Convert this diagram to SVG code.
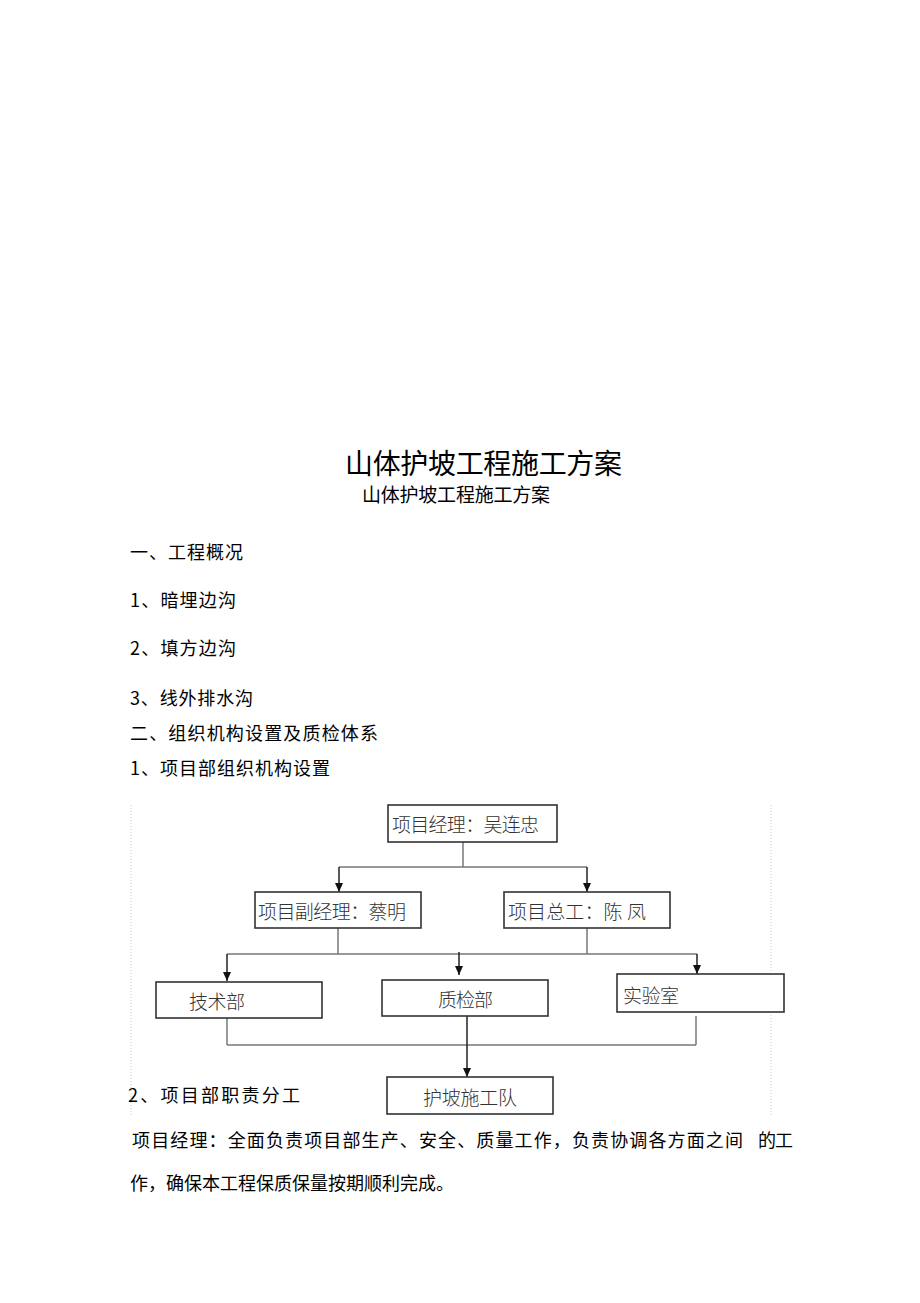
<svg xmlns="http://www.w3.org/2000/svg" width="920" height="1303" viewBox="0 0 920 1303">
<style>
.t{font-family:"Noto Sans CJK SC","Liberation Sans",sans-serif;fill:#000;font-weight:400}
.h{font-size:18px}
.b{font-family:"Noto Sans CJK SC","Liberation Serif",serif;font-size:19px;fill:#333;font-weight:300}
.box{fill:#fff;stroke:#333;stroke-width:1.6}
.ln{stroke:#777;stroke-width:1.5;fill:none}
.ar{stroke:#222;stroke-width:1.5;fill:none;marker-end:url(#ah)}
.fr{stroke:#ccc;stroke-width:1;stroke-dasharray:1 2}
</style>
<defs>
<marker id="ah" markerWidth="10" markerHeight="10" refX="9" refY="5" orient="auto" markerUnits="userSpaceOnUse">
<path d="M0,1 L9,5 L0,9 Z" fill="#111"/>
</marker>
</defs>
<rect width="920" height="1303" fill="#fff"/>
<g id="text">
<text class="t" x="345" y="474" font-size="28" textLength="277">山体护坡工程施工方案</text>
<text class="t" x="362" y="502" font-size="19" textLength="188">山体护坡工程施工方案</text>
<text class="t h" x="130" y="559" textLength="113">一、工程概况</text>
<text class="t h" x="130" y="607" textLength="106">1、暗埋边沟</text>
<text class="t h" x="130" y="655" textLength="106">2、填方边沟</text>
<text class="t h" x="130" y="705" textLength="123">3、线外排水沟</text>
<text class="t h" x="130" y="740" textLength="248">二、组织机构设置及质检体系</text>
<text class="t h" x="130" y="775" textLength="200">1、项目部组织机构设置</text>
<text class="t h" x="128" y="1102" textLength="172">2、项目部职责分工</text>
<text class="t h" x="132" y="1147" textLength="611">项目经理：全面负责项目部生产、安全、质量工作，负责协调各方面之间</text>
<text class="t h" x="758" y="1147" textLength="35">的工</text>
<text class="t h" x="130" y="1190" textLength="324">作，确保本工程保质保量按期顺利完成。</text>
</g>
<g id="frame">
<line class="fr" x1="131" y1="805" x2="131" y2="1115"/>
<line class="fr" x1="771" y1="805" x2="771" y2="1115"/>
</g>
<g id="connectors">
<line class="ln" x1="463" y1="842" x2="463" y2="867"/>
<line class="ln" x1="339" y1="867" x2="587" y2="867"/>
<line class="ar" x1="339" y1="867" x2="339" y2="892"/>
<line class="ar" x1="587" y1="867" x2="587" y2="892"/>
<line class="ln" x1="338" y1="928" x2="338" y2="954"/>
<line class="ln" x1="587" y1="928" x2="587" y2="954"/>
<line class="ln" x1="227" y1="954" x2="697" y2="954"/>
<line class="ar" x1="227" y1="954" x2="227" y2="981"/>
<line class="ar" x1="459" y1="952" x2="459" y2="975"/>
<line class="ar" x1="697" y1="954" x2="697" y2="974"/>
<line class="ln" x1="227" y1="1018" x2="227" y2="1045"/>
<line class="ln" x1="696" y1="1016" x2="696" y2="1045"/>
<line class="ln" x1="227" y1="1045" x2="696" y2="1045"/>
<line class="ar" x1="467" y1="1016" x2="467" y2="1077"/>
</g>
<g id="n-pm">
<rect class="box" x="388" y="805" width="169" height="37"/>
<text class="b" x="392" y="832" textLength="147">项目经理：吴连忠</text>
</g>
<g id="n-dpm">
<rect class="box" x="255" y="892" width="166" height="36"/>
<text class="b" x="258" y="919" textLength="148">项目副经理：蔡明</text>
</g>
<g id="n-ce">
<rect class="box" x="504" y="892" width="166" height="36"/>
<text class="b" x="508" y="919" textLength="138">项目总工：陈 凤</text>
</g>
<g id="n-tech">
<rect class="box" x="156" y="982" width="166" height="36"/>
<text class="b" x="189" y="1009" textLength="56">技术部</text>
</g>
<g id="n-qc">
<rect class="box" x="382" y="980" width="166" height="36"/>
<text class="b" x="438" y="1007" textLength="55">质检部</text>
</g>
<g id="n-lab">
<rect class="box" x="617" y="974" width="167" height="38"/>
<text class="b" x="623" y="1003" textLength="56">实验室</text>
</g>
<g id="n-team">
<rect class="box" x="387" y="1077" width="166" height="37"/>
<text class="b" x="423" y="1105" textLength="94">护坡施工队</text>
</g>
</svg>
